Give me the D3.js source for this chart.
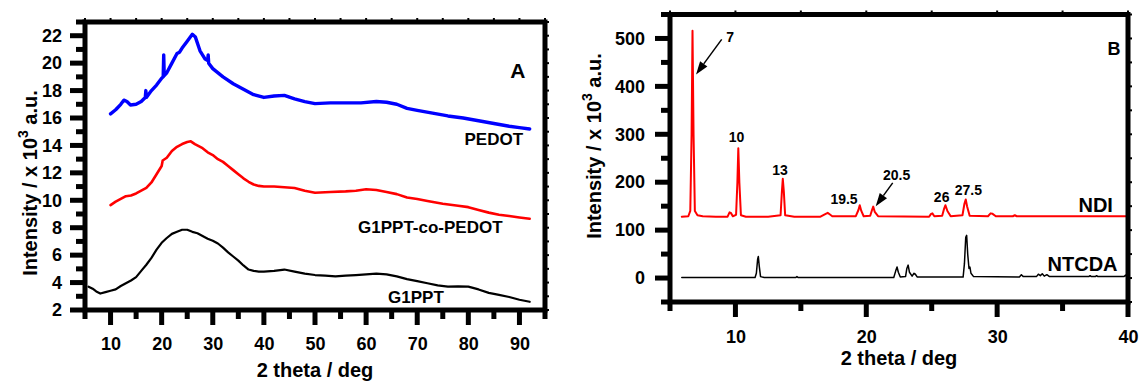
<!DOCTYPE html>
<html>
<head>
<meta charset="utf-8">
<script src="https://cdn.jsdelivr.net/npm/d3@7/dist/d3.min.js"></script>
<style>
  html, body { margin: 0; padding: 0; background: #fff; }
  svg { display: block; }
  text { font-family: "Liberation Sans", Arial, sans-serif; font-weight: bold; fill: #000; }
</style>
</head>
<body>
<svg id="chart" width="1140" height="383"></svg>
<script>
// ---------------- DATA ----------------
// Panel A: 2 theta (deg) vs intensity (x10^3 a.u.)
const pedot = [[10,16.3],[11,16.6],[12,17.0],[12.6,17.3],[13.2,17.2],[13.9,16.95],[15,17.0],[16,17.2],[16.8,17.5],[16.9,18.0],[17.0,17.5],[18,18.0],[19,18.4],[20,18.9],[20.3,19.0],[20.4,20.6],[20.5,19.1],[21,19.3],[22,20.0],[23,20.7],[23.5,20.8],[24,21.1],[25,21.6],[26,22.1],[26.6,21.9],[27.5,20.9],[28.5,20.3],[29,20.2],[29.1,20.6],[29.2,20.0],[30,19.6],[32,19.0],[34,18.5],[36,18.1],[38,17.7],[40,17.5],[42,17.6],[44,17.65],[46,17.4],[48,17.2],[50,17.05],[53,17.1],[56,17.1],[59,17.1],[62,17.2],[64,17.15],[66,17.0],[68,16.7],[70,16.55],[73,16.35],[76,16.15],[79,16.0],[82,15.8],[85,15.6],[88,15.4],[90,15.3],[92,15.2]];
const g1pptCoPedot = [[10,9.65],[11,9.9],[12,10.1],[13,10.3],[14,10.35],[15,10.5],[16,10.7],[17,10.9],[18,11.3],[19,11.9],[20,12.5],[20.2,12.9],[21,13.1],[22,13.6],[23,13.9],[24,14.1],[25,14.25],[25.7,14.3],[26.5,14.1],[28,13.8],[29,13.5],[30,13.3],[31,13.0],[32,12.8],[33,12.5],[34,12.2],[35,11.9],[36,11.6],[37,11.35],[38,11.15],[39,11.05],[40,11.0],[42,11.0],[44,10.95],[46,10.9],[48,10.7],[50,10.55],[53,10.6],[56,10.65],[58,10.7],[60,10.8],[62,10.75],[64,10.6],[66,10.45],[68,10.2],[70,10.1],[72,9.95],[75,9.75],[78,9.6],[80,9.5],[82,9.3],[84,9.1],[86,8.95],[88,8.85],[90,8.75],[92,8.65]];
const g1ppt = [[5.7,3.7],[6.5,3.55],[7.2,3.35],[8,3.2],[9,3.3],[10,3.4],[11,3.5],[12,3.75],[13,3.95],[14,4.15],[15,4.4],[16,4.85],[17,5.3],[18,5.8],[19,6.4],[20,6.9],[21,7.25],[22,7.55],[23,7.7],[24,7.85],[25,7.85],[26,7.7],[27,7.6],[28,7.4],[29,7.2],[30,7.05],[31,6.85],[32,6.55],[33,6.2],[34,5.9],[35,5.6],[36,5.25],[37,4.95],[38,4.85],[39,4.8],[40,4.8],[42,4.85],[44,4.95],[46,4.8],[48,4.65],[50,4.55],[52,4.5],[54,4.45],[56,4.5],[58,4.55],[60,4.6],[62,4.65],[64,4.6],[66,4.45],[68,4.25],[70,4.1],[72,3.95],[74,3.8],[76,3.7],[78,3.72],[80,3.7],[82,3.5],[84,3.25],[86,3.1],[88,2.95],[90,2.75],[92,2.6]];

// Panel B
const ndi = [[5.9,128],[6.4,129],[6.55,140],[6.65,300],[6.72,516],[6.8,300],[6.9,140],[7.1,131],[7.5,129],[8.5,128],[9.4,128],[9.55,137],[9.65,136],[9.8,129],[10.05,132],[10.15,200],[10.22,271],[10.3,200],[10.42,131],[10.8,128],[12.5,128],[13.45,131],[13.55,180],[13.62,207],[13.7,180],[13.8,131],[14.5,128],[16.5,128],[16.9,134],[17.05,136],[17.2,133],[17.4,129],[19.2,129],[19.4,142],[19.5,152],[19.62,140],[19.8,129],[20.3,130],[20.45,143],[20.53,149],[20.65,138],[20.9,129],[24.8,128],[24.95,134],[25.05,135],[25.2,129],[25.8,130],[25.95,145],[26.05,152],[26.2,140],[26.45,129],[27.35,131],[27.5,155],[27.6,164],[27.7,150],[27.9,130],[29.3,129],[29.5,135],[29.65,134],[29.9,129],[31.2,129],[31.35,131],[31.5,129],[40,129]];
const ntcda = [[5.9,1],[11.5,1],[11.6,10],[11.7,40],[11.75,45],[11.82,25],[11.92,3],[12.2,1],[14.6,1],[14.7,3],[14.8,1],[22.1,1],[22.25,15],[22.35,23],[22.45,12],[22.6,2],[23.0,3],[23.1,20],[23.2,27],[23.3,12],[23.5,4],[23.65,10],[23.75,8],[23.9,2],[27.4,2],[27.5,30],[27.6,85],[27.67,89],[27.75,50],[27.85,20],[27.92,23],[28.0,10],[28.2,3],[31.7,2],[31.85,7],[32.0,3],[33.0,3],[33.15,8],[33.3,5],[33.45,9],[33.6,4],[33.8,7],[34,3],[37.0,3],[37.1,5],[37.2,3],[37.5,3],[37.6,5],[37.7,3],[39.7,3],[39.8,6],[39.9,3]];

// Axes / ticks
const aXDomain = [5, 95], aYDomain = [2, 23];
const aXMajor = [10,20,30,40,50,60,70,80,90];
const aXMinor = [5,15,25,35,45,55,65,75,85,95];
const aYMajor = [2,4,6,8,10,12,14,16,18,20,22];
const aYMinor = [3,5,7,9,11,13,15,17,19,21,23];
const bXDomain = [5, 40], bYDomain = [-50, 550];
const bXMajor = [10,20,30,40];
const bXMinor = [5,15,25,35];
const bYMajor = [0,100,200,300,400,500];
const bYMinor = [-50,50,150,250,350,450,550];

// Text annotations (data coordinates)
const aLabels = [
  {t:"PEDOT", x:90.7, y:14.03, anchor:"end", size:17},
  {t:"G1PPT-co-PEDOT", x:86.7, y:7.59, anchor:"end", size:17},
  {t:"G1PPT", x:75.2, y:2.49, anchor:"end", size:17},
  {t:"A", x:89.7, y:18.9, anchor:"middle", size:21}
];
const bLabels = [
  {t:"NDI", x:38.85, y:137.5, anchor:"end", size:20},
  {t:"NTCDA", x:39.2, y:15.2, anchor:"end", size:20},
  {t:"B", x:38.93, y:464.6, anchor:"middle", size:18},
  {t:"7", x:9.6, y:492, anchor:"middle", size:14},
  {t:"10", x:10.08, y:283, anchor:"middle", size:14},
  {t:"13", x:13.41, y:214.6, anchor:"middle", size:14},
  {t:"19.5", x:18.3, y:154, anchor:"middle", size:14},
  {t:"20.5", x:22.32, y:204, anchor:"middle", size:14},
  {t:"26", x:25.76, y:158, anchor:"middle", size:14},
  {t:"27.5", x:27.8, y:173, anchor:"middle", size:14}
];
const bArrows = [
  {x1:8.95, y1:498, x2:6.99, y2:425},
  {x1:22.02, y1:198.5, x2:20.72, y2:150}
];

// ---------------- DRAW ----------------
const svg = d3.select("#chart");
const FONT = "'Liberation Sans', Arial, sans-serif";

function drawTicks(g, list, len, w, orient, scale, at) {
  list.forEach(v => {
    const p = scale(v);
    let x1, y1, x2, y2;
    if (orient === "bottom") { x1 = x2 = p; y1 = at; y2 = at + len; }
    if (orient === "top")    { x1 = x2 = p; y1 = at; y2 = at - len; }
    if (orient === "left")   { y1 = y2 = p; x1 = at; x2 = at - len; }
    if (orient === "right")  { y1 = y2 = p; x1 = at; x2 = at + len; }
    g.append("line").attr("x1", x1).attr("y1", y1).attr("x2", x2).attr("y2", y2)
      .attr("stroke", "#000").attr("stroke-width", w);
  });
}

function panel(cfg) {
  const g = svg.append("g");
  const x = d3.scaleLinear().domain(cfg.xDomain).range([cfg.left, cfg.right]);
  const y = d3.scaleLinear().domain(cfg.yDomain).range([cfg.bottom, cfg.top]);

  // series
  const line = d3.line().x(d => x(d[0])).y(d => y(d[1]));
  cfg.series.forEach(s => {
    g.append("path").datum(s.data).attr("d", line)
      .attr("fill", "none").attr("stroke", s.color).attr("stroke-width", s.width)
      .attr("stroke-linejoin", "round").attr("stroke-linecap", "round");
  });

  // ticks
  const tg = g.append("g");
  drawTicks(tg, cfg.xMajor.concat(cfg.xMinor), 4, 2, "top", x, cfg.top);
  drawTicks(tg, cfg.yMajor.concat(cfg.yMinor), 4, 2, "right", y, cfg.right);
  drawTicks(tg, cfg.xMinor, 9, 5, "bottom", x, cfg.bottom);
  drawTicks(tg, cfg.xMajor, 15, 5, "bottom", x, cfg.bottom);
  drawTicks(tg, cfg.yMinor, 9, 5, "left", y, cfg.left);
  drawTicks(tg, cfg.yMajor, 15, 5, "left", y, cfg.left);

  // tick labels via d3 axis
  const bx = g.append("g").attr("transform", `translate(0,${cfg.bottom})`)
    .call(d3.axisBottom(x).tickValues(cfg.xMajor).tickSize(15).tickPadding(cfg.xPad).tickFormat(d3.format("d")))
    .call(a => a.select(".domain").remove())
    .call(a => a.selectAll("line").remove());
  bx.selectAll("text").attr("font-size", 18).attr("font-family", FONT).attr("font-weight", "bold");
  const ly = g.append("g").attr("transform", `translate(${cfg.left},0)`)
    .call(d3.axisLeft(y).tickValues(cfg.yMajor).tickSize(15).tickPadding(cfg.yPad).tickFormat(d3.format("d")))
    .call(a => a.select(".domain").remove())
    .call(a => a.selectAll("line").remove());
  ly.selectAll("text").attr("font-size", 18).attr("font-family", FONT).attr("font-weight", "bold");

  // frame
  g.append("rect").attr("x", cfg.left).attr("y", cfg.top)
    .attr("width", cfg.right - cfg.left).attr("height", cfg.bottom - cfg.top)
    .attr("fill", "none").attr("stroke", "#000").attr("stroke-width", 5);

  // axis titles
  g.append("text").attr("x", (cfg.left + cfg.right) / 2).attr("y", cfg.xTitleY)
    .attr("text-anchor", "middle").attr("font-size", 20).text("2 theta / deg");
  const yt = g.append("text")
    .attr("transform", `translate(${cfg.yTitleX},${cfg.yTitleCY}) rotate(-90)`)
    .attr("text-anchor", "middle").attr("font-size", 20);
  yt.append("tspan").text("Intensity / x 10");
  yt.append("tspan").attr("font-size", 14).attr("dy", -9).text("3");
  yt.append("tspan").attr("dy", 9).text(" a.u.");

  // labels
  cfg.labels.forEach(l => {
    g.append("text").attr("x", x(l.x)).attr("y", y(l.y))
      .attr("text-anchor", l.anchor).attr("font-size", l.size).text(l.t);
  });

  // arrows
  (cfg.arrows || []).forEach(a => {
    const x1 = x(a.x1), y1 = y(a.y1), x2 = x(a.x2), y2 = y(a.y2);
    const dx = x2 - x1, dy = y2 - y1, L = Math.hypot(dx, dy);
    const ux = dx / L, uy = dy / L, hl = 13, hw = 4.5;
    const bxp = x2 - ux * hl, byp = y2 - uy * hl;
    g.append("line").attr("x1", x1).attr("y1", y1).attr("x2", bxp).attr("y2", byp)
      .attr("stroke", "#000").attr("stroke-width", 1.5);
    g.append("path")
      .attr("d", `M${x2},${y2}L${bxp - uy * hw},${byp + ux * hw}L${bxp + uy * hw},${byp - ux * hw}Z`)
      .attr("fill", "#000");
  });
}

panel({
  left: 85, right: 545, top: 22, bottom: 310,
  xDomain: aXDomain, yDomain: aYDomain,
  xMajor: aXMajor, xMinor: aXMinor, yMajor: aYMajor, yMinor: aYMinor,
  xPad: 12, yPad: 8, xTitleY: 377, yTitleX: 37, yTitleCY: 183,
  series: [
    {data: g1ppt, color: "#000000", width: 2.2},
    {data: g1pptCoPedot, color: "#ff0000", width: 2.6},
    {data: pedot, color: "#0000ff", width: 3.4}
  ],
  labels: aLabels
});

panel({
  left: 670, right: 1128, top: 14.5, bottom: 302,
  xDomain: bXDomain, yDomain: bYDomain,
  xMajor: bXMajor, xMinor: bXMinor, yMajor: bYMajor, yMinor: bYMinor,
  xPad: 13, yPad: 10, xTitleY: 365, yTitleX: 601, yTitleCY: 146,
  series: [
    {data: ntcda, color: "#000000", width: 1.5},
    {data: ndi, color: "#ff0000", width: 2}
  ],
  labels: bLabels,
  arrows: bArrows
});
</script>
</body>
</html>
